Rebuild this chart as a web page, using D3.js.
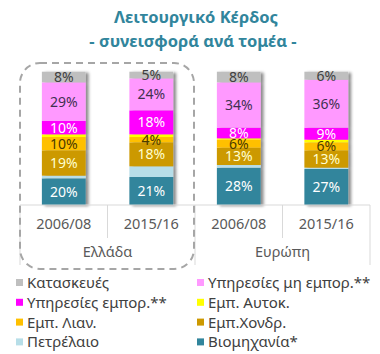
<!DOCTYPE html>
<html>
<head>
<meta charset="utf-8">
<script src="https://cdn.jsdelivr.net/npm/d3@7"></script>
<style>
  body { margin: 0; background: #fff; }
  svg { font-family: "Noto Sans", "DejaVu Sans", sans-serif; }
</style>
</head>
<body>
<div id="chart"></div>
<script>
// categories and groups
const categories = ["2006/08", "2015/16", "2006/08", "2015/16"];
const groups = ["Ελλάδα", "Ευρώπη"];

// series, bottom of the stack first
const seriesNames = ["Βιομηχανία*", "Πετρέλαιο", "Εμπ.Χονδρ.", "Εμπ. Λιαν.", "Εμπ. Αυτοκ.",
  "Υπηρεσίες εμπορ.**", "Υπηρεσίες μη εμπορ.**", "Κατασκευές"];
const seriesColors = ["#31859C", "#B7DEE8", "#CC9900", "#FFC000", "#FFFF00",
  "#FF00FF", "#FF99FF", "#BFBFBF"];
const labelColors = ["#ffffff", null, "#FFFFD0", "#4a3a00", null,
  "#ffffff", "#3f3151", "#404040"];

const industry = [20, 21, 28, 27];
const oil = [2, 8, 2, 1];
const wholesale = [19, 18, 13, 13];
const retail = [10, 4, 6, 6];
const autoTrade = [2, 2, 1, 2];
const mktServices = [10, 18, 8, 9];
const nonMktServices = [29, 24, 34, 36];
const construction = [8, 5, 8, 6];

// legend order (rows, two columns)
const legendOrder = ["Κατασκευές", "Υπηρεσίες μη εμπορ.**", "Υπηρεσίες εμπορ.**", "Εμπ. Αυτοκ.",
  "Εμπ. Λιαν.", "Εμπ.Χονδρ.", "Πετρέλαιο", "Βιομηχανία*"];

const seriesValues = [industry, oil, wholesale, retail, autoTrade, mktServices, nonMktServices, construction];

const width = 380, height = 354;
const plotLeft = 20, plotRight = 370, plotTop = 71.7, plotBottom = 205;

const svg = d3.select("#chart").append("svg")
  .attr("width", width)
  .attr("height", height);

const defs = svg.append("defs");
const shadow = defs.append("filter").attr("id", "shadow")
  .attr("x", "-20%").attr("y", "-10%").attr("width", "160%").attr("height", "130%");
shadow.append("feDropShadow")
  .attr("dx", 3).attr("dy", 1).attr("stdDeviation", 1.8)
  .attr("flood-color", "#000").attr("flood-opacity", 0.45);

// title
const title = svg.append("text")
  .attr("text-anchor", "middle")
  .attr("fill", "#31859C")
  .style("font-weight", "bold")
  .style("font-size", "16.5px");
title.append("tspan").attr("x", 196).attr("y", 23).text("Λειτουργικό Κέρδος");
title.append("tspan").attr("x", 193).attr("y", 47).text("- συνεισφορά ανά τομέα -");

// scales
const x = d3.scaleBand()
  .domain(d3.range(categories.length))
  .range([plotLeft, plotRight])
  .paddingInner(0.5)
  .paddingOuter(0.25);

const y = d3.scaleLinear()
  .domain([0, 100])
  .range([plotBottom, plotTop]);

const table = categories.map((c, i) => {
  const row = { i: i };
  seriesNames.forEach((s, k) => row[s] = seriesValues[k][i]);
  return row;
});

const stacked = d3.stack().keys(seriesNames)(table);

// bars with shadow
const bars = svg.append("g").attr("filter", "url(#shadow)");
bars.selectAll("g")
  .data(stacked)
  .enter().append("g")
  .attr("fill", (d, k) => seriesColors[k])
  .selectAll("rect")
  .data(d => d)
  .enter().append("rect")
  .attr("x", d => x(d.data.i))
  .attr("width", x.bandwidth())
  .attr("y", d => y(d[1]))
  .attr("height", d => y(d[0]) - y(d[1]));

// labels
const labels = svg.append("g")
  .attr("text-anchor", "middle")
  .style("font-size", "14px");
stacked.forEach((layer, k) => {
  if (!labelColors[k]) return;
  labels.selectAll(null)
    .data(layer)
    .enter().append("text")
    .attr("x", d => x(d.data.i) + x.bandwidth() / 2)
    .attr("y", d => (y(d[0]) + y(d[1])) / 2 + 5)
    .attr("fill", labelColors[k])
    .text(d => (d[1] - d[0]) + "%");
});

// axis lines and separators
const step = (plotRight - plotLeft) / categories.length;
const axis = svg.append("g").attr("stroke", "#D9D9D9").attr("stroke-width", 1);
axis.append("line")
  .attr("x1", plotLeft).attr("x2", plotRight)
  .attr("y1", plotBottom).attr("y2", plotBottom);
d3.range(categories.length + 1).forEach(j => {
  const major = j % 2 === 0;
  axis.append("line")
    .attr("x1", plotLeft + j * step).attr("x2", plotLeft + j * step)
    .attr("y1", plotBottom).attr("y2", major ? 265 : 238);
});

// category labels
svg.append("g")
  .attr("text-anchor", "middle")
  .style("font-size", "14.5px")
  .attr("fill", "#595959")
  .selectAll("text")
  .data(categories)
  .enter().append("text")
  .attr("x", (d, i) => x(i) + x.bandwidth() / 2)
  .attr("y", 229)
  .text(d => d);

svg.append("g")
  .attr("text-anchor", "middle")
  .style("font-size", "14.5px")
  .attr("fill", "#595959")
  .selectAll("text")
  .data(groups)
  .enter().append("text")
  .attr("x", (d, i) => plotLeft + step * (2 * i + 1))
  .attr("y", 257)
  .text(d => d);

// dashed box around Greece
svg.append("rect")
  .attr("x", 20).attr("y", 63)
  .attr("width", 174).attr("height", 206)
  .attr("rx", 20).attr("ry", 20)
  .attr("fill", "none")
  .attr("stroke", "#A6A6A6")
  .attr("stroke-width", 2)
  .attr("stroke-dasharray", "7,5");

// legend
const legend = svg.append("g").style("font-size", "15px").attr("fill", "#404040");
legendOrder.forEach((name, n) => {
  const k = seriesNames.indexOf(name);
  const col = n % 2, row = Math.floor(n / 2);
  const lx = col === 0 ? 16 : 197;
  const ly = 283 + row * 19.8;
  legend.append("rect")
    .attr("x", lx).attr("y", ly - 4)
    .attr("width", 7).attr("height", 7)
    .attr("fill", seriesColors[k]);
  legend.append("text")
    .attr("x", lx + 11).attr("y", ly + 5)
    .text(name);
});
</script>
</body>
</html>
